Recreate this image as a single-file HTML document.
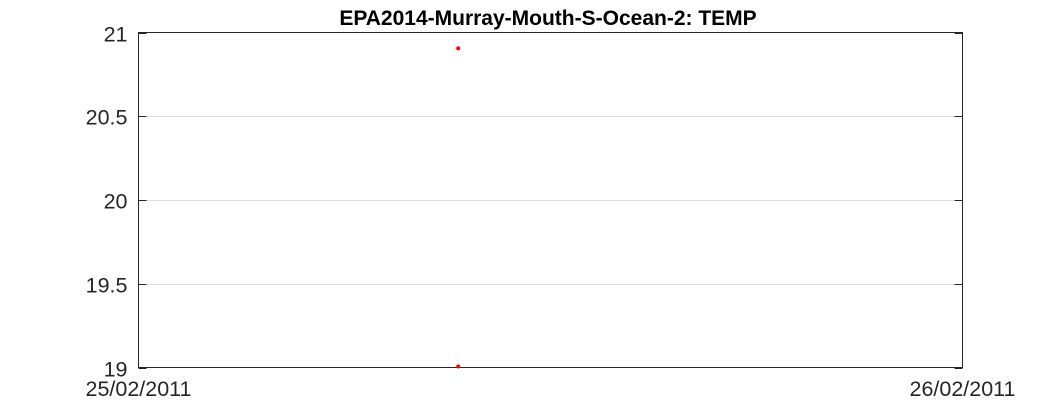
<!DOCTYPE html>
<html><head><meta charset="utf-8"><style>
body{margin:0;background:#fff;font-family:"Liberation Sans",sans-serif;}
</style></head><body>
<svg width="1063" height="413" xmlns="http://www.w3.org/2000/svg">
<rect width="1063" height="413" fill="#fff"/>
<text x="548" y="25" text-anchor="middle" font-size="21" font-weight="bold" font-family="Liberation Sans, sans-serif">EPA2014-Murray-Mouth-S-Ocean-2: TEMP</text>
<g id="grid"></g>
<rect x="138.5" y="32.5" width="824" height="335" fill="none" stroke="#262626" stroke-width="1"/>
<g id="ticks"></g>
<g id="marks"></g>
</svg>
<script>
const yTicks=[19,19.5,20,20.5,21];
const yTickLabels=["19","19.5","20","20.5","21"];
const xTicks=[0,1];
const xTickLabels=["25/02/2011","26/02/2011"];
const pointTimes=[0.388,0.388];
const pointValues=[20.905,19.006];
const L=138.5,R=962.5,T=32.5,B=367.5;
const ns="http://www.w3.org/2000/svg";
function xs(t){return L+(t-0)/(1-0)*(R-L);}
function ys(v){return B-(v-19)/(21-19)*(B-T);}
function mk(tag,attrs,parent){const e=document.createElementNS(ns,tag);for(const k in attrs)e.setAttribute(k,attrs[k]);document.getElementById(parent).appendChild(e);return e;}
yTicks.forEach((v,i)=>{
  const y=Math.round(ys(v))+0.5;
  if(i>0&&i<yTicks.length-1){
    const g=mk('line',{x1:L,x2:R,y1:y,y2:y,stroke:'#dfdfdf','stroke-width':1},'grid');
    
    
  }
  mk('line',{x1:L,x2:L+8,y1:y,y2:y,stroke:'#262626'},'ticks');
  mk('line',{x1:R-8,x2:R,y1:y,y2:y,stroke:'#262626'},'ticks');
  const t=mk('text',{x:L-11,y:y+8,'text-anchor':'end','font-size':21.5,fill:'#262626'},'ticks');
  t.textContent=yTickLabels[i];
  
  
});
xTicks.forEach((v,i)=>{
  const x=xs(v);
  const t=mk('text',{x:x,y:396,'text-anchor':'middle','font-size':21.5,fill:'#262626'},'ticks');
  t.textContent=xTickLabels[i];
  
  
});
pointTimes.forEach((t,i)=>{
  const c=mk('circle',{cx:xs(t),cy:ys(pointValues[i]),r:2,fill:'#ff0000'},'marks');
  
  
});
</script>
</body></html>
